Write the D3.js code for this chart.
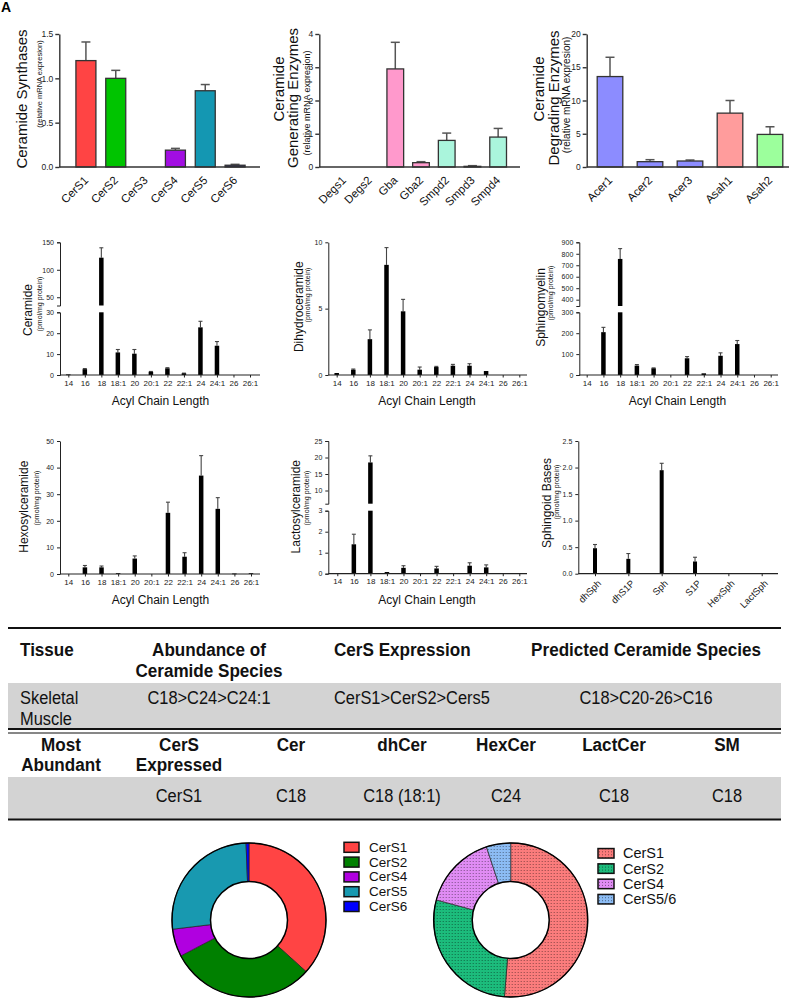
<!DOCTYPE html>
<html><head><meta charset="utf-8">
<script src="https://cdn.jsdelivr.net/npm/d3@7"></script>
<style>body{margin:0;background:#fff}svg{display:block}</style>
</head><body>
<script>
// ================= DATA =================
const synthCats=["CerS1","CerS2","CerS3","CerS4","CerS5","CerS6"];
const synthMean=[1.20,1.00,0,0.19,0.86,0.02];
const synthSem=[0.21,0.09,0,0.02,0.07,0.01];
const synthColors=["#ff4444","#00c400","#ffffff","#a20ee2","#1497b2","#1c1c8e"];

const genCats=["Degs1","Degs2","Gba","Gba2","Smpd2","Smpd3","Smpd4"];
const genMean=[0,0,2.95,0.13,0.80,0.02,0.90];
const genSem=[0,0,0.80,0.03,0.22,0.02,0.26];
const genColors=["#ff99cc","#ff99cc","#ff99cc","#ff99cc","#aaf5dc","#aaf5dc","#aaf5dc"];

const degCats=["Acer1","Acer2","Acer3","Asah1","Asah2"];
const degMean=[13.6,0.8,0.9,8.1,4.9];
const degSem=[2.9,0.3,0.15,1.9,1.15];
const degColors=["#8c8cff","#8c8cff","#8c8cff","#ff9c9c","#9cff9c"];

const acylCats=["14","16","18","18:1","20","20:1","22","22:1","24","24:1","26","26:1"];
const cerMean=[0.3,2.8,122,10.8,10.2,1.5,3.2,0.8,22.8,14,0,0];
const cerSem=[0,0.3,18,1.4,2.0,0.2,0.3,0.1,2.9,2.0,0,0];
const dhcerMean=[0.15,0.4,2.7,8.3,4.8,0.4,0.6,0.7,0.7,0.3,0,0];
const dhcerSem=[0,0.05,0.7,1.3,0.9,0.2,0.05,0.1,0.15,0,0,0];
const smMean=[0,205,755,45,32,0,80,8,92,148,0,0];
const smSem=[0,23,90,5,2,0,8,0,14,17,0,0];
const hexMean=[0,2.5,2.5,0.3,5.8,0,23,6.5,37,24.5,0.2,0.3];
const hexSem=[0,0.7,0.5,0,1.0,0,4.0,1.5,7.5,4.2,0,0];
const lacMean=[0,1.4,18.5,0.08,0.28,0.02,0.25,0,0.38,0.3,0,0];
const lacSem=[0,0.48,2.0,0,0.1,0,0.1,0,0.14,0.12,0,0];
const baseCats=["dhSph","dhS1P","Sph","S1P","HexSph","LactSph"];
const baseMean=[0.48,0.28,1.95,0.23,0,0];
const baseSem=[0.07,0.10,0.13,0.08,0,0];

const pieACats=["CerS1","CerS2","CerS4","CerS5","CerS6"];
const pieAValues=[1.20,1.00,0.19,0.86,0.02];
const pieAColors=["#ff4444","#008000","#b000e0","#1899b0","#0000ff"];
const pieBCats=["CerS1","CerS2","CerS4","CerS5/6"];
const pieBValues=[51.3,27.9,15.7,5.1];
const pieBColors=["#fb7c7c","#1cbc7c","#e08cf4","#8cbcf4"];

const tab1Head=[["Tissue"],["Abundance of","Ceramide Species"],["CerS Expression"],["Predicted Ceramide Species"]];
const tab1Row=[["Skeletal","Muscle"],["C18>C24>C24:1"],["CerS1>CerS2>Cers5"],["C18>C20-26>C16"]];
const tab2Head=[["Most","Abundant"],["CerS","Expressed"],["Cer"],["dhCer"],["HexCer"],["LactCer"],["SM"]];
const tab2Row=["","CerS1","C18","C18 (18:1)","C24","C18","C18"];

// ================= DRAWING =================
const FONT="'Liberation Sans', Arial, sans-serif";
const svg=d3.select("body").append("svg").attr("width",791).attr("height",1000)
  .attr("font-family",FONT);

svg.append("text").attr("x",1).attr("y",12).attr("font-size",14).attr("font-weight","bold").text("A");

function rotLabel(g,l){
  g.append("text").attr("transform",`translate(${l.x},${l.y}) rotate(-90)`)
   .attr("text-anchor","middle").attr("dominant-baseline","central")
   .attr("font-size",l.s).attr("fill","#111").text(l.t);
}

function topPanel(c){
  const g=svg.append("g");
  const x=d3.scaleBand().domain(c.cats).range([c.x0,c.x1]).paddingInner(c.pad).paddingOuter(c.pad/2);
  const y=d3.scaleLinear().domain(c.yDom).range([c.yB,c.yT]);
  const rows=c.cats.map((d,i)=>({d,m:c.mean[i],s:c.sem[i],col:c.colors[i]}));
  const eb=g.selectAll(".eb").data(rows.filter(r=>r.s>0)).join("g").attr("stroke","#555").attr("stroke-width",1.5);
  eb.append("line").attr("x1",r=>x(r.d)+x.bandwidth()/2).attr("x2",r=>x(r.d)+x.bandwidth()/2)
    .attr("y1",r=>y(r.m)).attr("y2",r=>y(r.m+r.s));
  eb.append("line").attr("x1",r=>x(r.d)+x.bandwidth()/2-4.5).attr("x2",r=>x(r.d)+x.bandwidth()/2+4.5)
    .attr("y1",r=>y(r.m+r.s)).attr("y2",r=>y(r.m+r.s));
  g.selectAll(".bar").data(rows.filter(r=>r.m>0)).join("rect")
    .attr("x",r=>x(r.d)).attr("width",x.bandwidth())
    .attr("y",r=>y(r.m)).attr("height",r=>y(0)-y(r.m))
    .attr("fill",r=>r.col).attr("stroke","#333").attr("stroke-width",1.3);
  const ya=g.append("g").attr("transform",`translate(${c.axisX},0)`)
    .call(d3.axisLeft(y).tickValues(c.ticks).tickFormat(c.fmt).tickSize(4).tickPadding(2).tickSizeOuter(0));
  ya.attr("font-family",FONT).attr("font-size",8.5);
  ya.selectAll("path,line").attr("stroke","#333").attr("stroke-width",1.4);
  ya.selectAll("text").attr("fill","#222");
  g.append("line").attr("x1",c.axisX).attr("x2",c.axisEnd).attr("y1",c.yB).attr("y2",c.yB)
    .attr("stroke","#333").attr("stroke-width",1.5);
  g.selectAll(".xl").data(c.cats).join("text")
    .attr("x",d=>x(d)+x.bandwidth()/2+3).attr("y",c.yB+14)
    .attr("transform",d=>`rotate(-45 ${x(d)+x.bandwidth()/2+3} ${c.yB+14})`)
    .attr("text-anchor","end").attr("font-size",11.5).attr("fill","#111").text(d=>d);
  c.labels.forEach(l=>rotLabel(g,l));
}

function acylPanel(c){
  const g=svg.append("g");
  const x=d3.scalePoint().domain(c.cats).range([c.c0,c.c1]);
  const sc=c.segs.map(s=>d3.scaleLinear().domain(s.dom).range(s.rng));
  const bw=c.bw||4.5;
  const pieces=[];
  c.cats.forEach((d,i)=>{
    const v=c.mean[i];
    c.segs.forEach((s,k)=>{
      const lo=s.dom[0],hi=Math.min(v,s.dom[1]);
      if(hi>lo) pieces.push({d,k,lo,hi});
    });
  });
  const errs=[];
  c.cats.forEach((d,i)=>{
    const v=c.mean[i],s=c.sem[i];
    if(s<=0||v<=0) return;
    let k=c.segs.findIndex(sg=>v>=sg.dom[0]&&v<=sg.dom[1]);
    if(k<0) k=0;
    errs.push({d,k,v,t:v+s});
  });
  const eg=g.selectAll(".er").data(errs).join("g").attr("stroke","#444").attr("stroke-width",1.1);
  eg.append("line").attr("x1",e=>x(e.d)).attr("x2",e=>x(e.d)).attr("y1",e=>sc[e.k](e.v)).attr("y2",e=>sc[e.k](e.t));
  eg.append("line").attr("x1",e=>x(e.d)-2).attr("x2",e=>x(e.d)+2).attr("y1",e=>sc[e.k](e.t)).attr("y2",e=>sc[e.k](e.t));
  g.selectAll(".pc").data(pieces).join("rect")
    .attr("x",p=>x(p.d)-bw/2).attr("width",bw)
    .attr("y",p=>sc[p.k](p.hi)).attr("height",p=>Math.max(0.8,sc[p.k](p.lo)-sc[p.k](p.hi)))
    .attr("fill","#000");
  c.segs.forEach((s,k)=>{
    const ya=g.append("g").attr("transform",`translate(${c.axisX},0)`)
      .call(d3.axisLeft(sc[k]).tickValues(s.ticks).tickFormat(s.fmt||d3.format("d")).tickSize(3).tickSizeOuter(c.segs.length>1?3:0));
    ya.attr("font-family",FONT).attr("font-size",7);
    ya.selectAll("path,line").attr("stroke","#222").attr("stroke-width",1);
    ya.selectAll("text").attr("fill","#222");
  });
  const xa=g.append("g").attr("transform",`translate(0,${c.yB})`)
    .call(d3.axisBottom(x).tickSize(2.5).tickSizeOuter(0));
  xa.select(".domain").remove();
  xa.attr("font-family",FONT);
  xa.selectAll("line").attr("stroke","#222");
  if(c.rot){
    xa.selectAll("text").attr("font-size",9.5).attr("fill","#222").attr("text-anchor","end")
      .attr("x",4).attr("y",8).attr("dy","0.35em").attr("transform","rotate(-45 4 8)");
  } else {
    xa.selectAll("text").attr("font-size",8).attr("fill","#222").attr("y",5);
  }
  g.append("line").attr("x1",c.axisX).attr("x2",c.axisEnd).attr("y1",c.yB).attr("y2",c.yB)
    .attr("stroke","#222").attr("stroke-width",1.2);
  c.labels.forEach(l=>rotLabel(g,l));
  if(c.xlab) g.append("text").attr("x",c.xlab.x).attr("y",c.xlab.y).attr("text-anchor","middle")
    .attr("font-size",12).attr("fill","#111").text("Acyl Chain Length");
}

const f1=d3.format(".1f"), fd=d3.format("d");
topPanel({cats:synthCats,mean:synthMean,sem:synthSem,colors:synthColors,axisX:59.3,x0:71,x1:250,pad:0.33,axisEnd:260,
  yDom:[0,1.5],yB:167,yT:34,ticks:[0,0.5,1,1.5],fmt:f1,
  labels:[{t:"Ceramide Synthases",x:21.7,y:99,s:15},{t:"(relative mRNA expresion)",x:39,y:84,s:7.5}]});
topPanel({cats:genCats,mean:genMean,sem:genSem,colors:genColors,axisX:319.3,x0:331,x1:511,pad:0.35,axisEnd:520,
  yDom:[0,4],yB:167,yT:34,ticks:[0,1,2,3,4],fmt:fd,
  labels:[{t:"Ceramide",x:278.3,y:89,s:15},{t:"Generating Enzymes",x:292,y:98,s:15},{t:"(relative mRNA expresion)",x:306.7,y:103,s:9}]});
topPanel({cats:degCats,mean:degMean,sem:degSem,colors:degColors,axisX:586.7,x0:590,x1:790,pad:0.36,axisEnd:789,
  yDom:[0,20],yB:167,yT:34,ticks:[0,5,10,15,20],fmt:fd,
  labels:[{t:"Ceramide",x:538.3,y:89,s:15},{t:"Degrading Enzymes",x:553.3,y:98,s:15},{t:"(relative mRNA expresion)",x:566.7,y:95,s:10}]});

acylPanel({cats:acylCats,mean:cerMean,sem:cerSem,axisX:60,c0:68.3,c1:250,axisEnd:260,yB:375,
  segs:[{dom:[0,30],rng:[375,312.3],ticks:[0,10,20,30]},{dom:[35,150],rng:[305.5,242.3],ticks:[50,100,150]}],
  labels:[{t:"Ceramide",x:27.5,y:310,s:12},{t:"(pmol/mg protein)",x:39.2,y:304,s:7}],xlab:{x:160.5,y:405}});
acylPanel({cats:acylCats,mean:dhcerMean,sem:dhcerSem,axisX:328.3,c0:336.7,c1:519.3,axisEnd:527,yB:375,
  segs:[{dom:[0,10],rng:[375,242.3],ticks:[0,5,10]}],
  labels:[{t:"Dihydroceramide",x:298.7,y:306.7,s:12},{t:"(pmol/mg protein)",x:307.5,y:295,s:7}],xlab:{x:427,y:405}});
acylPanel({cats:acylCats,mean:smMean,sem:smSem,axisX:579.3,c0:586.7,c1:770.7,axisEnd:778,yB:375,
  segs:[{dom:[0,300],rng:[375,312.3],ticks:[0,100,200,300]},{dom:[345,900],rng:[306,242.3],ticks:[400,500,600,700,800,900]}],
  labels:[{t:"Sphingomyelin",x:540.5,y:307.5,s:12},{t:"(pmol/mg protein)",x:550.5,y:293,s:7}],xlab:{x:677.5,y:405}});
acylPanel({cats:acylCats,mean:hexMean,sem:hexSem,axisX:60,c0:68.3,c1:251,axisEnd:260,yB:574,
  segs:[{dom:[0,50],rng:[574,441],ticks:[0,10,20,30,40,50]}],
  labels:[{t:"Hexosylceramide",x:24.2,y:506.7,s:12},{t:"(pmol/mg protein)",x:36.5,y:498,s:7}],xlab:{x:160.5,y:604}});
acylPanel({cats:acylCats,mean:lacMean,sem:lacSem,axisX:328.3,c0:337.3,c1:519.3,axisEnd:527,yB:573.7,
  segs:[{dom:[0,3],rng:[573.7,510.7],ticks:[0,1,2,3]},{dom:[6,25],rng:[503.7,441],ticks:[10,15,20,25]}],
  labels:[{t:"Lactosylceramide",x:295.8,y:506.7,s:12},{t:"(pmol/mg protein)",x:306.2,y:498,s:7}],xlab:{x:427,y:604}});
acylPanel({cats:baseCats,mean:baseMean,sem:baseSem,axisX:578.3,c0:595,c1:761.7,axisEnd:778,yB:573.7,bw:4,rot:true,
  segs:[{dom:[0,2.5],rng:[573.7,441],ticks:[0,0.5,1,1.5,2,2.5],fmt:f1}],
  labels:[{t:"Sphingoid Bases",x:547,y:503,s:12},{t:"(pmol/mg protein)",x:556,y:492,s:7}]});

// ================= TABLES =================
const TF="'Liberation Sans Narrow','Arial Narrow','Liberation Sans',Arial,sans-serif";
const TS=18.5;
function fitScale(str,bold,target){
  const t=svg.append("text").attr("font-family",TF).attr("font-size",TS).attr("font-weight",bold?"bold":"normal").text(str);
  const w=t.node().getComputedTextLength(); t.remove(); return target/w;
}
const SXB=fitScale("Predicted Ceramide Species",true,230);
const SXR=fitScale("CerS1>CerS2>Cers5",false,156);
const tg=svg.append("g");
function tText(x,y,str,bold,anchor){
  tg.append("text").attr("font-family",TF).attr("font-size",TS).attr("font-weight",bold?"bold":"normal")
   .attr("fill","#111").attr("text-anchor",anchor||"middle")
   .attr("transform",`translate(${x},${y}) scale(${bold?SXB:SXR},1)`).text(str);
}
tg.append("rect").attr("x",8).attr("y",683).attr("width",773).attr("height",45).attr("fill","#d3d3d3");
tg.append("rect").attr("x",8).attr("y",777).attr("width",773).attr("height",42).attr("fill","#d3d3d3");
[[628,2],[729,2],[733,1.2],[819.5,2]].forEach(([y,w])=>tg.append("line").attr("x1",8).attr("x2",781)
  .attr("y1",y).attr("y2",y).attr("stroke","#111").attr("stroke-width",w));
const t1x=[[20,"start"],[209,"middle"],[334,"start"],[646,"middle"]];
tab1Head.forEach((lines,i)=>lines.forEach((s,j)=>tText(t1x[i][0],656+j*21,s,true,t1x[i][1])));
tab1Row.forEach((lines,i)=>lines.forEach((s,j)=>tText(t1x[i][0],704+j*21,s,false,t1x[i][1])));
const t2x=[61,179,291,402,506,614,727];
tab2Head.forEach((lines,i)=>lines.forEach((s,j)=>tText(t2x[i],751+j*20,s,true,"middle")));
tab2Row.forEach((s,i)=>{ if(s) tText(t2x[i],802,s,false,"middle"); });

// ================= DONUTS =================
const defs=svg.append("defs");
pieBColors.forEach((col,i)=>{
  const p=defs.append("pattern").attr("id","dot"+i).attr("patternUnits","userSpaceOnUse").attr("width",3).attr("height",3);
  p.append("rect").attr("width",3).attr("height",3).attr("fill",col);
  p.append("rect").attr("x",1).attr("y",1).attr("width",1).attr("height",1).attr("fill","rgba(0,0,0,0.45)");
});
function donut(c){
  const g=svg.append("g").attr("transform",`translate(${c.cx},${c.cy})`);
  const arcs=d3.pie().sort(null).value(d=>d)(c.values);
  const arc=d3.arc().innerRadius(c.r0).outerRadius(c.r1);
  g.selectAll("path").data(arcs).join("path").attr("d",arc).attr("fill",(d,i)=>c.fills[i])
   .attr("stroke","#222").attr("stroke-width",0.7);
  g.append("circle").attr("r",c.r1).attr("fill","none").attr("stroke","#000").attr("stroke-width",1.5);
  g.append("circle").attr("r",c.r0).attr("fill","#fff").attr("stroke","#000").attr("stroke-width",1.5);
  const lg=svg.append("g").attr("transform",`translate(${c.lx},${c.ly})`);
  const it=lg.selectAll("g").data(c.cats).join("g").attr("transform",(d,i)=>`translate(0,${i*c.ld})`);
  it.append("rect").attr("x",0).attr("y",-c.sh/2).attr("width",c.sw).attr("height",c.sh)
    .attr("fill",(d,i)=>c.fills[i]).attr("stroke","#111").attr("stroke-width",1.5);
  it.append("text").attr("x",c.tx).attr("y",0).attr("dominant-baseline","central")
    .attr("font-size",c.fs).attr("fill","#111").text(d=>d);
}
donut({cx:249,cy:920,r0:38.5,r1:77,values:pieAValues,cats:pieACats,fills:pieAColors,
  lx:344,ly:847.3,ld:14.8,sw:15,sh:10,tx:25,fs:13.5});
donut({cx:510.7,cy:920,r0:38.5,r1:77,values:pieBValues,cats:pieBCats,fills:pieBColors.map((c,i)=>`url(#dot${i})`),
  lx:598,ly:853.3,ld:15.3,sw:16,sh:9.5,tx:25,fs:14.5});
</script>
</body></html>
